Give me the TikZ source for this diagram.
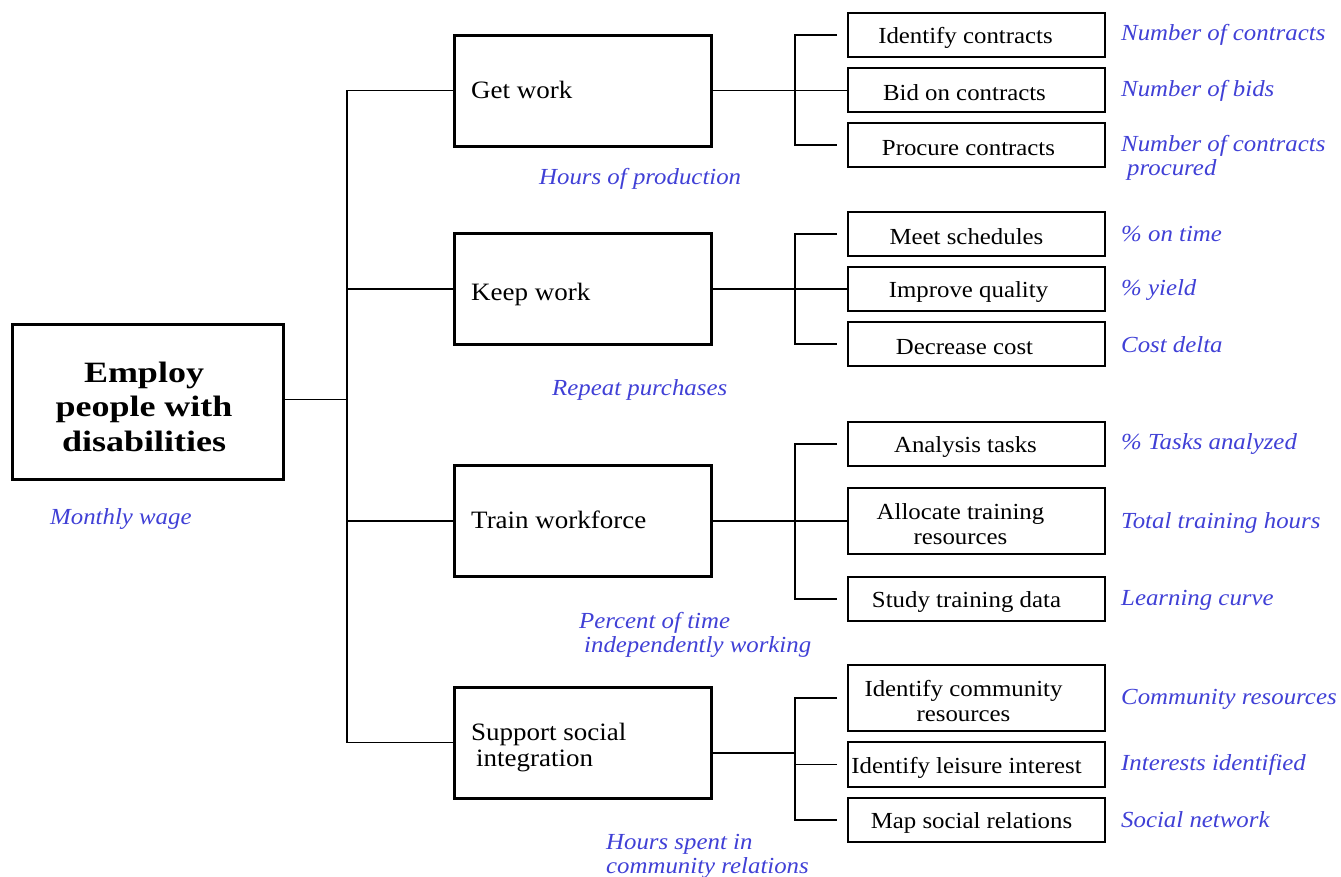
\documentclass[tikz,border=0pt]{standalone}
\usepackage{fontspec}
\setmainfont{Liberation Serif}[FakeStretch=1.08]
\newfontfamily\rootfont{Liberation Serif}[FakeStretch=1.22]
\definecolor{lblblue}{RGB}{64,64,214}
\begin{document}
\begin{tikzpicture}[x=1pt,y=-1pt,
  rootbox/.style={draw,line width=3pt,minimum width=271pt,minimum height=155pt,inner sep=0pt},
  roottext/.style={align=center,inner sep=0pt,font=\rootfont\fontsize{29.5}{34.5}\selectfont\bfseries},
  midbox/.style={draw,line width=3pt,minimum width=257pt,minimum height=111pt,inner sep=0pt},
  midtext/.style={anchor=base west,inner sep=0pt,font=\fontsize{25}{26}\selectfont},
  subbox/.style={draw,line width=2pt,minimum width=257pt,minimum height=44pt,inner sep=0pt},
  boxtext/.style={font=\fontsize{23}{25}\selectfont,align=center,inner sep=0pt},
  metric/.style={font=\fontsize{23}{24}\selectfont\itshape,text=lblblue,anchor=west,align=left,inner sep=0pt},
  conn/.style={line width=1.8pt}]
\useasboundingbox (0,0) rectangle (1341,876);

% root
\node[rootbox] (root) at (147.5,401.5) {};
\node[roottext] (rt) at (144,406.5) {Employ\\people with\\disabilities};
\node[metric] (mw) at (50,519) {Monthly wage};

% mid-level boxes
\node[midbox] (gw) at (582.5,90.5) {};
\node[midbox] (kw) at (582.5,289) {};
\node[midbox] (tw) at (582.5,521) {};
\node[midbox] (sp) at (582.5,742.5) {};
\node[midtext] (tgw) at (471,98) {Get work};
\node[midtext] (tkw) at (471,300) {Keep work};
\node[midtext] (ttw) at (471,528) {Train workforce};
\node[midtext] (tsp1) at (471,740) {Support social};
\node[midtext] (tsp2) at (476,766) {integration};

\node[metric] (m1) at (539,179) {Hours of production};
\node[metric] (m2) at (552,390) {Repeat purchases};
\node[metric] (m3) at (579,634.5) {Percent of time\\\hspace*{5pt}independently working};
\node[metric] (m4) at (606,856) {Hours spent in\\community relations};

% main trunk
\coordinate (mt) at (347,0);
\draw[conn] (gw.west) -- (gw.west -| mt) -- (sp.west -| mt) -- (sp.west);
\draw[conn] (kw.west) -- (kw.west -| mt);
\draw[conn] (tw.west) -- (tw.west -| mt);
\draw[conn] ([yshift=2pt]root.east) -- ([yshift=2pt]root.east -| mt);

% group 1
\node[subbox] (a1) at (976.5,34.7) {};
\node[subbox,minimum height=43.4pt] (a2) at (976.5,90) {};
\node[subbox] (a3) at (976.5,145) {};
\node[boxtext] (ta1) at ([xshift=-11pt,yshift=-3pt]a1.center) {Identify contracts};
\node[boxtext] (ta2) at ([xshift=-12pt,yshift=-3pt]a2.center) {Bid on contracts};
\node[boxtext] (ta3) at ([xshift=-8pt,yshift=-3pt]a3.center) {Procure contracts};
\node[metric] (na1) at (1121,35) {Number of contracts};
\node[metric] (na2) at (1121,91) {Number of bids};
\node[metric] (na3) at (1121,157.5) {Number of contracts\\\hspace*{6pt}procured};
\coordinate (j1) at (795,90);
\draw[conn] (gw.east) -- (gw.east -| a2.west);
\draw[conn] ([xshift=-10pt]a1.west) -| (j1) |- ([xshift=-10pt]a3.west);

% group 2
\node[subbox] (b1) at (976.5,234) {};
\node[subbox] (b2) at (976.5,289) {};
\node[subbox] (b3) at (976.5,344) {};
\node[boxtext] (tb1) at ([xshift=-10pt,yshift=-3pt]b1.center) {Meet schedules};
\node[boxtext] (tb2) at ([xshift=-8pt,yshift=-3pt]b2.center) {Improve quality};
\node[boxtext] (tb3) at ([xshift=-12pt,yshift=-3pt]b3.center) {Decrease cost};
\node[metric] (nb1) at (1121,234) {\% on time};
\node[metric] (nb2) at (1121,290) {\% yield};
\node[metric] (nb3) at (1121,345) {Cost delta};
\coordinate (j2) at (795,289);
\draw[conn] (kw.east) -- (kw.east -| b2.west);
\draw[conn] ([xshift=-10pt]b1.west) -| (j2) |- ([xshift=-10pt]b3.west);

% group 3
\node[subbox] (c1) at (976.5,444) {};
\node[subbox,minimum height=66pt] (c2) at (976.5,521) {};
\node[subbox] (c3) at (976.5,599) {};
\node[boxtext] (tc1) at ([xshift=-11pt,yshift=-3pt]c1.center) {Analysis tasks};
\node[boxtext] (tc2) at ([xshift=-16pt,yshift=-3pt]c2.center) {Allocate training\\resources};
\node[boxtext] (tc3) at ([xshift=-10pt,yshift=-3pt]c3.center) {Study training data};
\node[metric] (nc1) at (1121,444) {\% Tasks analyzed};
\node[metric] (nc2) at (1121,523) {Total training hours};
\node[metric] (nc3) at (1121,600) {Learning curve};
\coordinate (j3) at (795,521);
\draw[conn] (tw.east) -- (tw.east -| c2.west);
\draw[conn] ([xshift=-10pt]c1.west) -| (j3) |- ([xshift=-10pt]c3.west);

% group 4
\node[subbox,minimum height=66pt] (d1) at (976.5,698) {};
\node[subbox,minimum height=45pt] (d2) at (976.5,764.5) {};
\node[subbox] (d3) at (976.5,820) {};
\node[boxtext] (td1) at ([xshift=-13pt,yshift=-3pt]d1.center) {Identify community\\resources};
\node[boxtext] (td2) at ([xshift=-10pt,yshift=-3pt]d2.center) {Identify leisure interest};
\node[boxtext] (td3) at ([xshift=-5pt,yshift=-3pt]d3.center) {Map social relations};
\node[metric] (nd1) at (1121,699) {Community resources};
\node[metric] (nd2) at (1121,765) {Interests identified};
\node[metric] (nd3) at (1121,820) {Social network};
\coordinate (j4) at (795,753);
\coordinate (s4) at ([yshift=-10.5pt]sp.east);
\draw[conn] (s4) -- (s4 -| j4);
\draw[conn] ([xshift=-10pt]d1.west) -| (j4) |- ([xshift=-10pt]d3.west);
\draw[conn] ([xshift=-10pt]d2.west) -- (d2.west -| j4);
\end{tikzpicture}
\end{document}
